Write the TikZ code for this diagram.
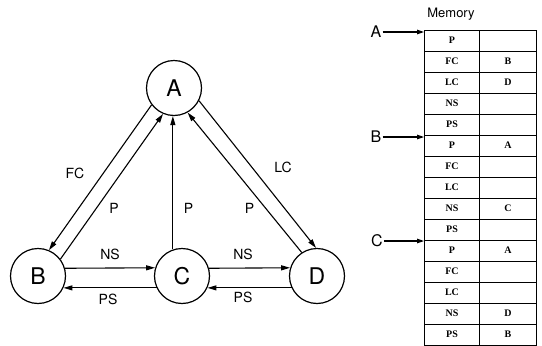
\documentclass[tikz,border=0pt]{standalone}
\usepackage{fontspec}
\setmainfont{Liberation Serif}
\setsansfont{TeX Gyre Heros}
\usetikzlibrary{arrows.meta,calc}
\begin{document}
\begin{tikzpicture}[x=1pt,y=-1pt,
  vtx/.style={circle,draw,line width=1.2pt,minimum size=55pt,inner sep=0pt,font=\sffamily\fontsize{23}{23}\selectfont},
  arr/.style={line width=1.1pt,-{Triangle[length=9pt,width=5pt]}},
  parr/.style={line width=1.1pt,-{Triangle[length=7pt,width=4.5pt]}},
  elab/.style={font=\sffamily\fontsize{14}{14}\selectfont,inner sep=0pt},
  plab/.style={font=\sffamily\fontsize{16}{16}\selectfont,inner sep=0pt},
  kcell/.style={draw,line width=0.9pt,minimum width=55pt,minimum height=21pt,inner sep=0pt,font=\fontsize{10}{10}\selectfont\bfseries},
  vcell/.style={draw,line width=0.9pt,minimum width=57pt,minimum height=21pt,inner sep=0pt,font=\fontsize{10}{10}\selectfont\bfseries}
]
\useasboundingbox (0,0) rectangle (542,346);
% tree nodes
\node[vtx] (A) at (174,88) {A};
\node[vtx] (B) at (38,276) {B};
\node[vtx] (C) at (182,276) {C};
\node[vtx] (D) at (317,276) {D};
% A-B
\draw[arr] (A.217.6) -- (B.67.4);
\draw[arr] (B.37.2) -- (A.247.8);
% C-A
\draw[arr] (C.109) -- (C.109 |- A.south);
% A-D
\draw[arr] (A.333) -- (D.92);
\draw[arr] (D.123.5) -- (A.299);
% siblings
\draw[arr] (B.16.6) -- (C.163.4);
\draw[arr] (C.205.4) -- (B.-25.4);
\draw[arr] (C.16.6) -- (D.163.4);
\draw[arr] (D.205.4) -- (C.-25.4);
% edge labels
\node[elab] (lfc) at (75,173) {FC};
\node[elab] (lp1) at (114,208) {P};
\node[elab] (lp2) at (188.5,208) {P};
\node[elab] (lp3) at (249.5,208) {P};
\node[elab] (llc) at (283,167) {LC};
\node[elab] (lns1) at (110,254) {NS};
\node[elab] (lps1) at (108,299) {PS};
\node[elab] (lns2) at (243,254) {NS};
\node[elab] (lps2) at (243,297) {PS};
% memory table
\node[font=\sffamily\fontsize{13}{13}\selectfont,inner sep=0pt] (mem) at (451,14) {Memory};
\foreach \lab [count=\i] in {P,FC,LC,NS,PS,P,FC,LC,NS,PS,P,FC,LC,NS,PS}
  \node[kcell] (k\i) at (452,{30+21*(\i-0.5)}) {\lab};
\foreach \v [count=\i] in {{},B,D,{},{},A,{},{},C,{},A,{},{},D,B}
  \node[vcell] (v\i) at (508,{30+21*(\i-0.5)}) {\v};
% pointers
\node[plab] (pa) at (376,32) {A};
\node[plab] (pb) at (376,137) {B};
\node[plab] (pc) at (377,241) {C};
\draw[parr] (pa.east) ++(1,0) coordinate (pa0) (pa0) -- (pa0 -| k1.west);
\draw[parr] (pb.east) ++(1,0) coordinate (pb0) (pb0) -- (pb0 -| k6.west);
\draw[parr] (pc.east) ++(1,0) coordinate (pc0) (pc0) -- (pc0 -| k11.west);
\end{tikzpicture}
\end{document}
